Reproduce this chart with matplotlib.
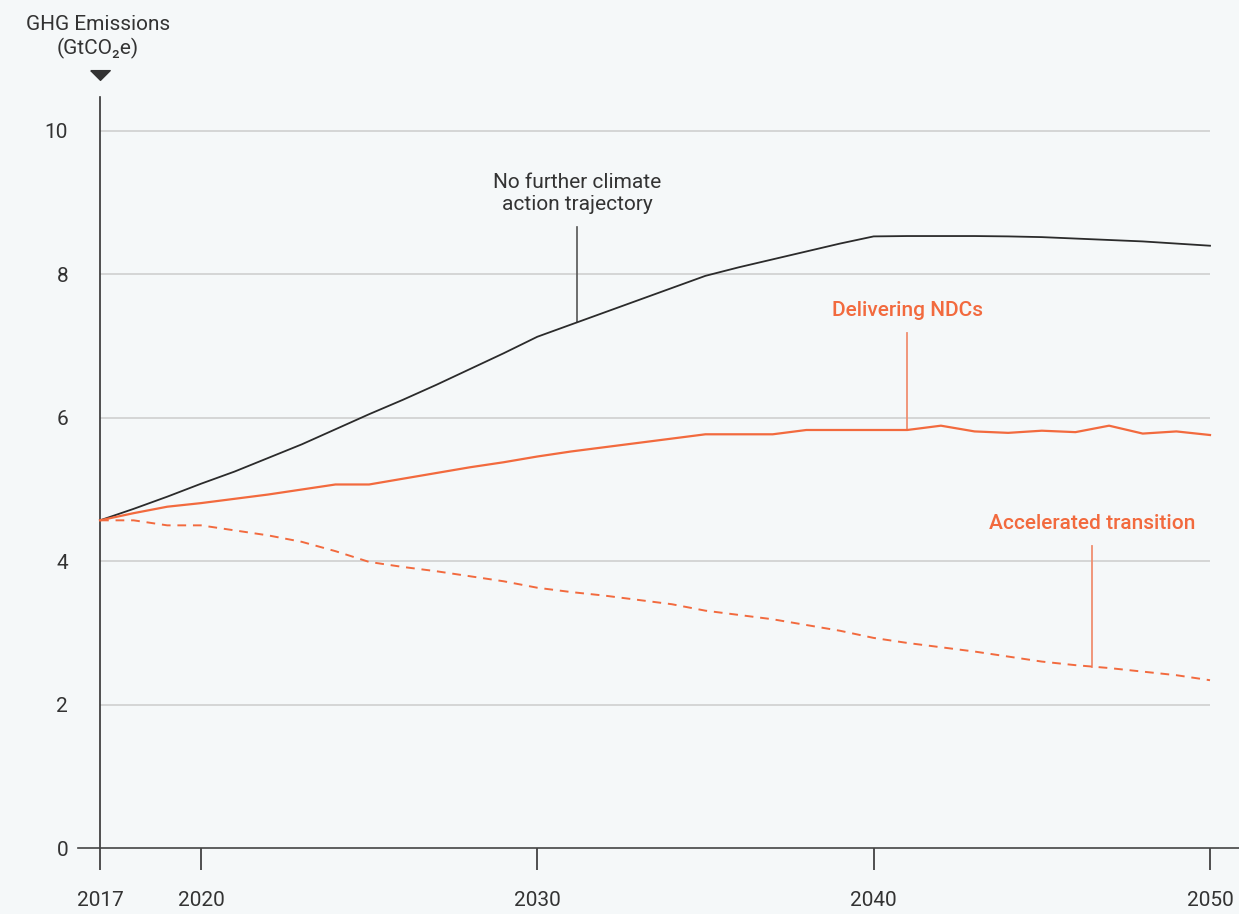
import numpy as np
import matplotlib
matplotlib.use("Agg")
import matplotlib.pyplot as plt

plt.rcParams['font.family'] = ['Roboto', 'DejaVu Sans']

years = list(range(2017, 2051))

# No further climate action trajectory
no_action = [4.57, 4.73, 4.90, 5.08, 5.25, 5.44, 5.63, 5.84, 6.05, 6.25,
             6.46, 6.68, 6.90, 7.13, 7.30, 7.47, 7.64, 7.81, 7.98, 8.10,
             8.21, 8.32, 8.43, 8.53, 8.535, 8.535, 8.535, 8.53, 8.52, 8.50,
             8.48, 8.46, 8.43, 8.40]

# Delivering NDCs
ndcs = [4.57, 4.67, 4.76, 4.81, 4.87, 4.93, 5.00, 5.07, 5.07, 5.15,
        5.23, 5.31, 5.38, 5.46, 5.53, 5.59, 5.65, 5.71, 5.77, 5.77,
        5.77, 5.83, 5.83, 5.83, 5.83, 5.89, 5.81, 5.79, 5.82, 5.80,
        5.89, 5.78, 5.81, 5.76]

# Accelerated transition
accel = [4.57, 4.57, 4.50, 4.50, 4.43, 4.36, 4.27, 4.14, 3.99, 3.92,
         3.86, 3.79, 3.72, 3.63, 3.57, 3.52, 3.46, 3.40, 3.31, 3.25,
         3.19, 3.11, 3.03, 2.93, 2.86, 2.80, 2.74, 2.67, 2.60, 2.55,
         2.51, 2.46, 2.41, 2.34]

xticks = [2017, 2020, 2030, 2040, 2050]
yticks = [0, 2, 4, 6, 8, 10]

bg = '#f5f8f9'
dark = '#333333'
orange = '#f26a3e'
orange_light = '#f08e70'

fig = plt.figure(figsize=(12.39, 9.14), dpi=100, facecolor=bg)
ax = fig.add_axes([78 / 1239, 66 / 914, 1161 / 1239, (848 - 97) / 914])
ax.set_facecolor(bg)

px_year = 33.64
ax.set_xlim(2017 - 22 / px_year, 2050 + 29 / px_year)
ax.set_ylim(0, (848 - 97) / 71.7)

# gridlines
ax.hlines(yticks[1:], 2017, 2050, color='#cccccc', lw=1.1, zorder=1)

ax.plot(years, no_action, color='#2b2b2b', lw=1.3, zorder=3)
ax.plot(years, ndcs, color=orange, lw=1.6, zorder=3)
ax.plot(years, accel, color=orange, lw=1.4, dashes=(4.5, 3.5), zorder=3)

# spines
for s in ['top', 'right']:
    ax.spines[s].set_visible(False)
ax.spines['left'].set_position(('data', 2017))
ax.spines['left'].set_color(dark)
ax.spines['left'].set_linewidth(1.2)
ax.spines['bottom'].set_color('#444444')
ax.spines['bottom'].set_linewidth(1.2)

ax.set_xticks(xticks)
ax.set_xticklabels([str(x) for x in xticks])
ax.tick_params(axis='x', direction='out', length=16, width=1.2, color=dark,
               pad=15, labelsize=15, labelcolor=dark)
ax.set_yticks(yticks)
ax.tick_params(axis='y', length=0, pad=23, labelsize=15, labelcolor=dark)

# arrow marker at top of y axis
tri = [(-1, 0.5), (1, 0.5), (0, -0.5), (-1, 0.5)]
ax.plot([2017], [(848 - 75) / 71.7], marker=tri, markersize=14,
        color=dark, clip_on=False, zorder=5)

fig.text(98 / 1239, 1 - 37 / 914, 'GHG Emissions\n(GtCO\u2082e)', ha='center',
         va='center', fontsize=15, color=dark, linespacing=1.25)

# annotations
def leader(x, series, top, color, lw):
    yv = np.interp(x, years, series)
    ax.plot([x, x], [yv, top], color=color, lw=lw, zorder=2)

x_na = 2031.18
leader(x_na, no_action, 8.66, '#555555', 1.2)
ax.text(x_na, 9.13, 'No further climate\naction trajectory', ha='center',
        va='center', fontsize=15, color=dark, linespacing=1.2)

x_ndc = 2041
leader(x_ndc, ndcs, 7.18, orange_light, 1.3)
ax.text(x_ndc, 7.49, 'Delivering NDCs', ha='center', va='center',
        fontsize=15, color=orange, fontweight='medium')

x_acc = 2046.49
leader(x_acc, accel, 4.21, orange_light, 1.3)
ax.text(x_acc, 4.53, 'Accelerated transition', ha='center', va='center',
        fontsize=15, color=orange, fontweight='medium')

fig.savefig('out.png', dpi=100, facecolor=bg)
